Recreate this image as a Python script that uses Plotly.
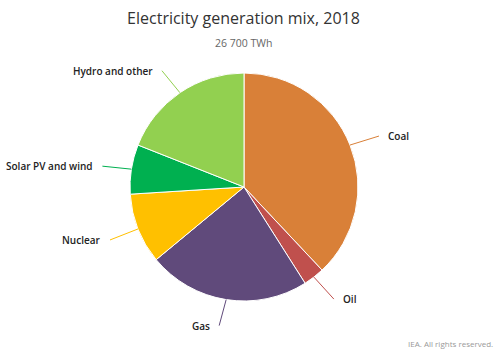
import math
import plotly.graph_objects as go

labels = ["Coal", "Oil", "Gas", "Nuclear", "Solar PV and wind", "Hydro and other"]
values = [38, 3, 23, 10, 7, 19]
colors = ["#D98038", "#C0504D", "#604A7B", "#FFC000", "#00B050", "#92D050"]

W, H = 500, 363
CX, CY, R = 244, 187, 114  # pixel centre / radius of the pie
FONT = "Open Sans"

# label offsets (pixels from slice edge point to label line end) and sides
label_offsets = {
    "Coal": (29, -9, "left"),
    "Oil": (20, 22, "left"),
    "Gas": (-7, 26, "right"),
    "Nuclear": (-28, 11, "right"),
    "Solar PV and wind": (-29, -3, "right"),
    "Hydro and other": (-18, -22, "right"),
}

fig = go.Figure(go.Pie(
    labels=labels, values=values, sort=False, direction="clockwise", rotation=0,
    marker=dict(colors=colors, line=dict(color="white", width=1)),
    textinfo="none", hoverinfo="label+percent", showlegend=False,
    domain=dict(x=[(CX - R) / W, (CX + R) / W], y=[(H - CY - R) / H, (H - CY + R) / H]),
))

total = sum(values)
cum = 0
anns = []
for lab, val, col in zip(labels, values, colors):
    mid = (cum + val / 2) / total * 2 * math.pi
    cum += val
    ex = CX + R * math.sin(mid)
    ey = CY - R * math.cos(mid)
    dx, dy, side = label_offsets[lab]
    anns.append(dict(
        x=ex / W, y=1 - ey / H, xref="paper", yref="paper",
        ax=dx, ay=dy, axref="pixel", ayref="pixel",
        text=lab, showarrow=True, arrowhead=0, arrowwidth=1, arrowcolor=col,
        xanchor=side, yanchor="middle", borderpad=8,
        font=dict(family=FONT, size=10, color="#222222", weight=600),
    ))

anns.append(dict(text="26 700 TWh", x=0.487, y=1 - 43 / H, xref="paper", yref="paper",
                 showarrow=False, xanchor="center", yanchor="middle",
                 font=dict(family=FONT, size=10.5, color="#666666")))
anns.append(dict(text="IEA. All rights reserved.", x=1 - 5 / W, y=1 - 343 / H,
                 xref="paper", yref="paper", showarrow=False, xanchor="right",
                 yanchor="middle", font=dict(family=FONT, size=8, color="#999999")))

fig.update_layout(
    width=W, height=H, margin=dict(l=0, r=0, t=0, b=0),
    paper_bgcolor="white", plot_bgcolor="white",
    title=dict(text="Electricity generation mix, 2018", x=0.487, xanchor="center",
               y=1 - 18 / H, yanchor="middle",
               font=dict(family=FONT, size=16, color="#333333")),
    annotations=anns,
)

fig.write_html("out.html", config={"displayModeBar": False},
               post_script="document.body.style.margin='0';document.body.style.overflow='hidden';")
